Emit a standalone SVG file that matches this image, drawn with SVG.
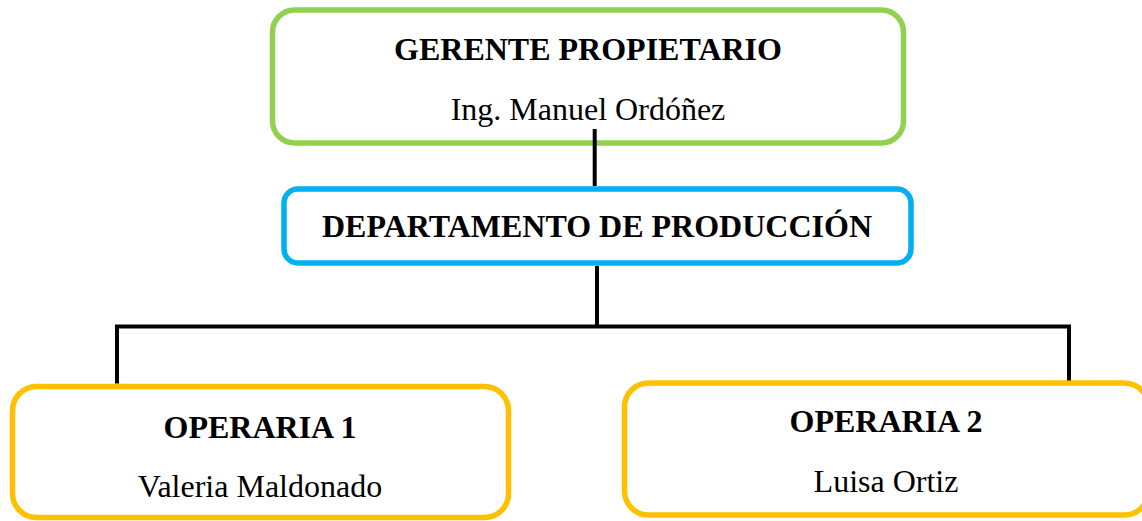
<svg xmlns="http://www.w3.org/2000/svg" width="1142" height="521" viewBox="0 0 1142 521">
<style>
.box{fill:#ffffff;stroke-width:5.5}
.g{stroke:#92D050}
.b{stroke:#00B0F0}
.o{stroke:#FFC000}
.t{font-family:"Liberation Serif","Times New Roman",serif;font-size:32px;fill:#000;text-anchor:middle}
.bold{font-weight:bold}
.line{stroke:#000;stroke-width:4;fill:none}
</style>
<rect width="1142" height="521" fill="#ffffff"/>
<g id="gerente">
<rect class="box g" x="272.5" y="10" width="631" height="133" rx="22"/>
<text class="t bold" x="588" y="60">GERENTE PROPIETARIO</text>
<text class="t" x="588" y="120">Ing. Manuel Ordóñez</text>
</g>
<g id="departamento">
<rect class="box b" x="284" y="189" width="627" height="74" rx="14"/>
<text class="t bold" x="597" y="237">DEPARTAMENTO DE PRODUCCIÓN</text>
</g>
<g id="operaria1">
<rect class="box o" x="12.5" y="386.5" width="496" height="131" rx="24"/>
<text class="t bold" x="260" y="438">OPERARIA 1</text>
<text class="t" x="260" y="497">Valeria Maldonado</text>
</g>
<g id="operaria2">
<rect class="box o" x="624.5" y="383" width="524" height="132" rx="24"/>
<text class="t bold" x="886" y="432">OPERARIA 2</text>
<text class="t" x="886" y="492">Luisa Ortiz</text>
</g>
<g id="connectors">
<line class="line" x1="594.7" y1="129" x2="594.7" y2="186"/>
<line class="line" x1="597" y1="266" x2="597" y2="326.5"/>
<polyline class="line" stroke-width="3" points="117,383.5 117,326.5 1069,326.5 1069,380.5"/>
</g>
</svg>
